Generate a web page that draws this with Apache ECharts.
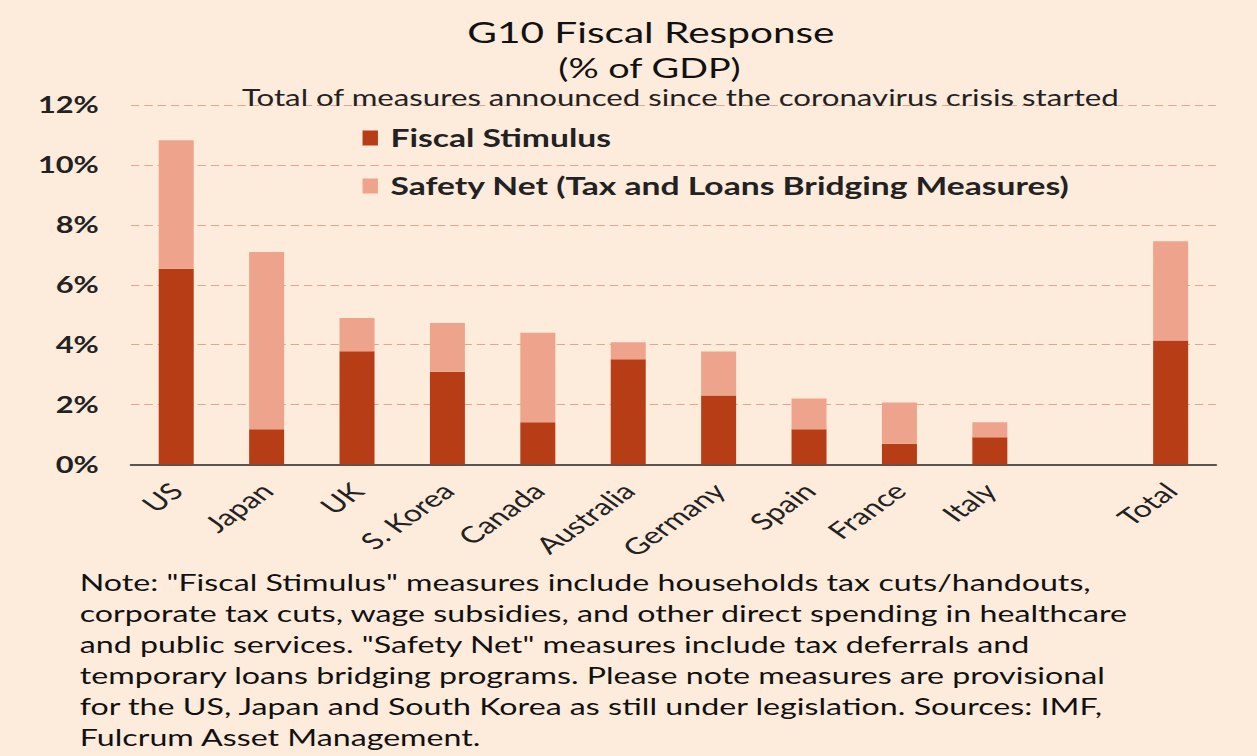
<!DOCTYPE html>
<html>
<head>
<meta charset="utf-8">
<script src="https://cdn.jsdelivr.net/npm/echarts@6/dist/echarts.min.js"></script>
<style>
  html, body { margin: 0; padding: 0; background: #fdebdc; overflow: hidden; }
  /* chart is laid out on a narrower canvas and widened to the page width */
  #chart { width: 898px; height: 756px; transform: scaleX(1.39978); transform-origin: 0 0; }
</style>
</head>
<body>
<div id="chart"></div>
<script>
// Country categories (blank slot separates the aggregate bar)
const categories = ['US', 'Japan', 'UK', 'S. Korea', 'Canada', 'Australia', 'Germany', 'Spain', 'France', 'Italy', '', 'Total'];
// Fiscal stimulus, % of GDP
const fiscalStimulus = [6.53, 1.18, 3.78, 3.10, 1.41, 3.51, 2.30, 1.18, 0.69, 0.91, null, 4.14];
// Safety net (tax and loans bridging), % of GDP, stacked on top
const safetyNet = [4.29, 5.91, 1.11, 1.62, 2.99, 0.57, 1.47, 1.02, 1.38, 0.50, null, 3.31];
// Y axis ticks
const yTicks = [0, 2, 4, 6, 8, 10, 12];

const noteLines = [
  'Note: "Fiscal Stimulus" measures include households tax cuts/handouts,',
  'corporate tax cuts, wage subsidies, and other direct spending in healthcare',
  'and public services. "Safety Net" measures include tax deferrals and',
  'temporary loans bridging programs. Please note measures are provisional',
  'for the US, Japan and South Korea as still under legislation. Sources: IMF,',
  'Fulcrum Asset Management.'
];

const FONT = 'Lato, "Open Sans", sans-serif';
const DARK = '#b73d16';
const LIGHT = '#eea48c';

const chart = echarts.init(document.getElementById('chart'), null, { renderer: 'svg' });
chart.setOption({
  backgroundColor: '#fdebdc',
  animation: false,
  title: [
    { text: 'G10 Fiscal Response', left: 460, top: 12, textAlign: 'center',
      textStyle: { fontFamily: FONT, fontSize: 29, fontWeight: 'normal', color: '#111' } },
    { text: '(% of GDP)', left: 459, top: 49, textAlign: 'center',
      textStyle: { fontFamily: FONT, fontSize: 27, fontWeight: 'normal', color: '#111' } },
    { text: 'Total of measures announced since the coronavirus crisis started', left: 481, top: 81, textAlign: 'center',
      textStyle: { fontFamily: FONT, fontSize: 22.3, fontWeight: 'normal', color: '#222' } }
  ],
  legend: {
    left: 254, top: 121, orient: 'vertical', itemGap: 24,
    itemWidth: 11, itemHeight: 15, icon: 'rect',
    textStyle: { fontFamily: FONT, fontSize: 24, fontWeight: 'bold', color: '#222', padding: [0, 0, 0, 4] },
    data: ['Fiscal Stimulus', 'Safety Net (Tax and Loans Bridging Measures)']
  },
  grid: { left: 93.6, right: 29.4, top: 105, height: 359.5, containLabel: false },
  xAxis: {
    type: 'category',
    data: categories,
    axisLine: { lineStyle: { color: '#555', width: 2 } },
    axisTick: { show: false },
    axisLabel: { rotate: 45, interval: 0, margin: 22, fontFamily: FONT, fontSize: 23, color: '#222' }
  },
  yAxis: {
    type: 'value',
    min: yTicks[0], max: yTicks[yTicks.length - 1], interval: 2,
    axisLine: { show: false },
    axisTick: { show: false },
    axisLabel: { formatter: v => v + '%', margin: 23, fontFamily: FONT, fontSize: 22, fontWeight: 'bold', color: '#222' },
    splitLine: { lineStyle: { color: '#e3a68a', type: [6, 3.5], width: 1.2 } }
  },
  series: [
    { name: 'Fiscal Stimulus', type: 'bar', stack: 'total', data: fiscalStimulus,
      barWidth: 25, itemStyle: { color: DARK } },
    { name: 'Safety Net (Tax and Loans Bridging Measures)', type: 'bar', stack: 'total', data: safetyNet,
      barWidth: 25, itemStyle: { color: LIGHT } }
  ],
  graphic: noteLines.map((line, i) => ({
    type: 'text', left: 57, top: 570 + i * 31,
    style: { text: line, font: '23px ' + FONT, fill: '#111' }
  }))
});
</script>
</body>
</html>
